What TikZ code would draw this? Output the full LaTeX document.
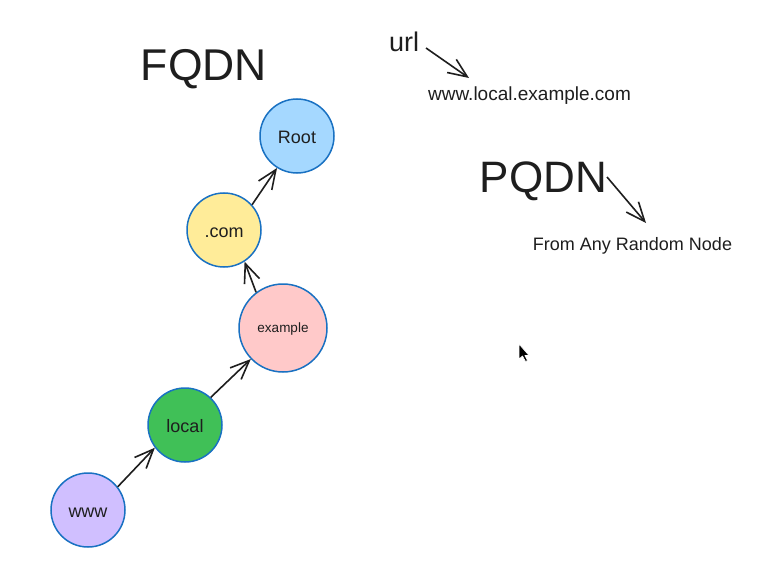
\documentclass[tikz,border=0pt]{standalone}
\usepackage{fontspec}
\setmainfont{Liberation Sans}
\usetikzlibrary{arrows.meta}
\definecolor{ink}{HTML}{1E1E1E}
\definecolor{edge}{HTML}{1971C2}
\definecolor{cblue}{HTML}{A5D8FF}
\definecolor{cyellow}{HTML}{FFEC99}
\definecolor{cpink}{HTML}{FFC9C9}
\definecolor{cgreen}{HTML}{40C057}
\definecolor{cviolet}{HTML}{D0BFFF}
\tikzset{
  bubble/.style={circle, draw=edge, line width=1.5pt, minimum size=74pt, inner sep=0pt, text=ink, font=\fontsize{18}{20}\selectfont, text height=15pt, text depth=0pt},
  link/.style={draw=ink, line width=1.6pt, -{Straight Barb[length=19pt,width=16pt]}},
  lbl/.style={text=ink, inner sep=0pt, anchor=base}
}
\begin{document}
\begin{tikzpicture}[x=1pt,y=-1pt]
\useasboundingbox[fill=white] (0,0) rectangle (765,572);
% circles
\node[bubble, fill=cblue] (root) at (297,136) {Root};
\node[bubble, fill=cyellow] (dotcom) at (224,230) {.com};
\node[bubble, fill=cpink, minimum size=88pt, font=\fontsize{13.5}{15}\selectfont, text height=8pt] (example) at (283,328) {example};
\node[bubble, fill=cgreen] (local) at (185,425) {local};
\node[bubble, fill=cviolet] (www) at (88,510) {www};
% chain arrows
\draw[link] (www.38) -- (local.217);
\draw[link] (local.47) -- (example.224);
\draw[link] (example.127) -- (dotcom.303);
\draw[link] (dotcom.42) -- (root.238);
% labels
\node[lbl, font=\fontsize{44.5}{50}\selectfont] (fqdn) at (204,81) {FQDN};
\node[lbl, font=\fontsize{27}{30}\selectfont] (url) at (404,52) {url};
\node[lbl, font=\fontsize{19}{22}\selectfont] (fullname) at (529.5,101) {www.local.example.com};
\node[lbl, font=\fontsize{44}{50}\selectfont] (pqdn) at (543.5,193) {PQDN};
\node[lbl, font=\fontsize{18}{20}\selectfont] (random) at (632.5,250) {From Any Random Node};
% pointer arrows
\coordinate (urlA) at (426,48);
\coordinate (urlB) at (469,78);
\coordinate (pqA) at (607,177);
\coordinate (pqB) at (646,223);
\draw[link] (urlA) -- (urlB);
\draw[link] (pqA) -- (pqB);
% mouse cursor
\draw[fill=black, draw=white, line width=0.6pt, line join=round]
  (519,344) -- (519,359) -- (522.5,356) -- (525.5,361.5) -- (527.5,360.5) -- (524.8,355.5) -- (529,355.5) -- cycle;
\end{tikzpicture}
\end{document}
